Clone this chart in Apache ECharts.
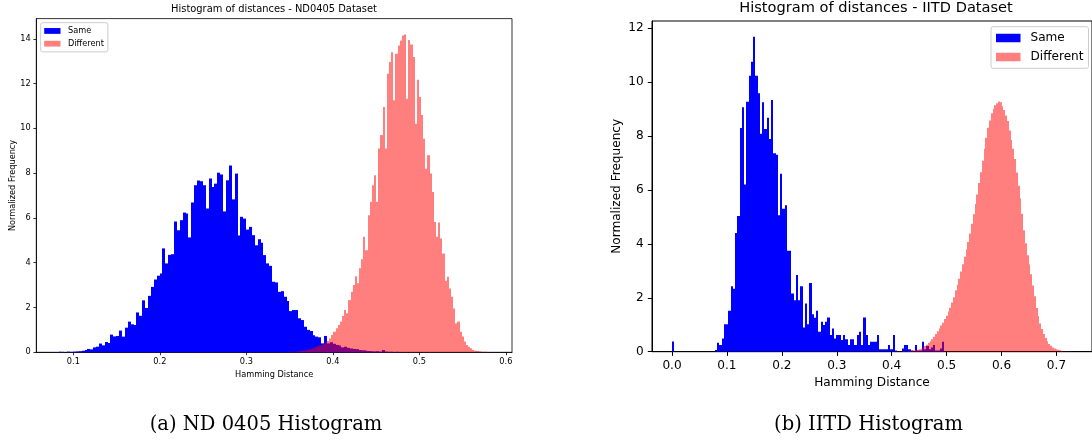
<!DOCTYPE html>
<html><head><meta charset="utf-8">
<script src="https://cdn.jsdelivr.net/npm/echarts@6/dist/echarts.min.js"></script>
<style>html,body{margin:0;padding:0;background:#fff}#c{width:1092px;height:440px}</style>
</head><body><div id="c"></div>
<script>
// ---- ND0405 dataset (left panel) ----
const ndSameStart = 0.0829, ndSameWidth = 0.003337;
const ndSame = [0.02,0.02,0.00,0.03,0.02,0.03,0.04,0.05,
0.07,0.10,0.15,0.13,0.22,0.25,0.39,0.31,0.46,0.42,0.79,0.71,0.73,0.97,0.70,1.10,1.37,1.25,1.22,1.78,1.63,2.32,1.98,2.52,
2.92,3.25,3.42,3.52,4.64,3.97,4.35,4.38,5.84,5.45,5.90,6.24,6.20,5.13,6.69,7.46,7.67,7.64,7.46,6.42,7.76,7.38,7.53,8.02,7.94,6.29,7.68,8.34,6.83,7.98,5.22,6.05,5.97,5.48,5.60,5.23,4.78,5.05,
4.89,4.34,3.97,3.86,3.15,3.12,2.70,2.73,2.48,2.29,1.84,1.89,1.89,1.52,1.44,1.14,1.00,0.95,0.76,0.70,0.67,0.40,0.73,
0.40,0.45,0.38,0.33,0.30,0.22,0.25,0.20,0.17,0.15,0.14,0.10,0.09,0.08,0.06,0.05,0.04,0.05,0.03,0.10,0.03,0.02,0.02,0.00,0.02];
const ndDiffStart = 0.334, ndDiffWidth = 0.00247;
const ndDiff = [0.00,0.00,0.01,0.00,0.01,0.01,0.02,0.02,0.03,0.03,
0.04,0.05,0.07,0.08,0.10,0.12,0.15,0.18,0.22,0.26,
0.30,0.33,0.38,0.44,0.50,0.62,0.77,0.92,1.07,1.22,
1.37,1.62,1.89,1.74,2.33,2.70,3.00,3.40,3.08,3.75,
4.15,5.16,4.56,6.12,6.72,7.46,7.90,6.72,9.10,9.70,
10.95,9.10,12.44,12.96,13.40,11.25,13.33,13.70,13.92,14.14,
14.19,11.32,13.95,13.74,13.18,10.20,12.17,11.40,10.60,9.54,
8.20,8.80,7.98,7.16,5.82,5.16,5.80,5.08,4.41,3.20,
3.37,2.85,2.48,1.96,1.29,1.37,0.92,0.70,0.48,0.33,
0.25,0.18,0.10,0.07,0.06,0.05,0.03,0.03,0.02,0.01];
const ndXTicks = [0.1,0.2,0.3,0.4,0.5,0.6];
const ndYTicks = [0,2,4,6,8,10,12,14];

// ---- IITD dataset (right panel) ----
const iitdSameStart = 0.0, iitdSameWidth = 0.0041;
const iitdSame = [0.38,0,0,0,0,0,0,0,0,0,0,0,0,0,0,0,0,0,0,
0.06,0.33,0.25,0.49,1.02,1.02,1.52,2.43,2.33,4.40,
5.03,8.29,9.06,6.20,9.27,10.23,10.75,11.68,10.23,9.58,
8.08,9.25,8.26,8.67,7.89,9.33,7.36,7.30,5.06,6.60,
5.30,5.43,3.74,3.74,2.16,1.91,2.84,1.91,2.43,0.90,
1.79,1.02,2.55,1.39,1.26,1.52,0.74,1.11,0.99,1.11,
1.27,0.62,0.86,0.49,0.62,0.62,0.43,0.62,0.46,0.25,
0.46,0.46,0.25,0.62,0.74,0.25,1.27,0.62,0.25,0.37,
0.37,0.37,0.62,0.09,0.09,0.09,0.09,0.25,0.09,0.62,
0.04,0,0,0.12,0.25,0.25,0.09,0.04,0,0.25,
0.04,0.04,0.37,0.09,0.21,0.09,0.16,0.25,0.04,0.04,
0.12,0.37];
const iitdDiffStart = 0.400, iitdDiffWidth = 0.00328;
const iitdDiff = [0.00,0.00,0.005,0.01,0.01,0.01,0.02,0.02,0.02,0.03,
0.03,0.04,0.05,0.06,0.07,0.09,0.12,0.16,0.21,0.26,
0.33,0.39,0.46,0.55,0.66,0.76,0.86,0.97,1.07,1.21,
1.33,1.49,1.63,1.82,2.02,2.28,2.48,2.70,2.97,3.24,
3.52,3.79,4.07,4.38,4.74,5.10,5.48,5.83,6.25,6.65,
7.08,7.52,7.93,8.30,8.57,8.84,9.00,9.14,9.21,9.28,
9.25,9.10,8.96,8.76,8.55,8.20,7.85,7.52,7.14,6.64,
6.15,5.69,5.11,4.50,4.02,3.58,3.23,2.87,2.45,2.06,
1.62,1.32,1.05,0.84,0.66,0.51,0.39,0.29,0.22,0.16,
0.12,0.09,0.07,0.05,0.03,0.02,0.015,0.01,0.01,0.005];
const iitdXTicks = [0,0.1,0.2,0.3,0.4,0.5,0.6,0.7];
const iitdYTicks = [0,2,4,6,8,10,12];

const seriesNames = ['Same', 'Different'];
const panelTitles = ['Histogram of distances - ND0405 Dataset', 'Histogram of distances - IITD Dataset'];
const captions = ['(a) ND 0405 Histogram', '(b) IITD Histogram'];
const xName = 'Hamming Distance', yName = 'Normalized Frequency';

function bins(start, width, vals) {
  return vals.map((v, i) => [start + i * width, start + (i + 1) * width, v]);
}
function renderBar(params, api) {
  const a = api.coord([api.value(0), api.value(2)]);
  const b = api.coord([api.value(1), 0]);
  const x0 = Math.round(a[0]), x1 = Math.round(b[0]);
  return { type: 'rect', shape: { x: x0, y: a[1], width: x1 - x0, height: b[1] - a[1] }, style: api.style() };
}
const FONT = 'DejaVu Sans';
const BLUE = '#0000ff', RED = 'rgba(255,0,0,0.5)';

function xAxisCfg(grid, min, max, ticks, fs, tickLen, margin, gap, lw) {
  return {
    gridIndex: grid, type: 'value', min: min, max: max,
    axisLine: { show: true, onZero: false, lineStyle: { color: '#000', width: lw } },
    axisTick: { show: true, customValues: ticks, length: tickLen, lineStyle: { color: '#000', width: lw } },
    axisLabel: { customValues: ticks, formatter: v => v.toFixed(1), fontSize: fs, color: '#000', fontFamily: FONT, margin: margin },
    splitLine: { show: false },
    name: xName, nameLocation: 'middle', nameGap: gap,
    nameTextStyle: { fontSize: fs, color: '#000', fontFamily: FONT }
  };
}
function yAxisCfg(grid, max, ticks, fs, tickLen, margin, gap, lw) {
  return {
    gridIndex: grid, type: 'value', min: 0, max: max,
    axisLine: { show: true, onZero: false, lineStyle: { color: '#000', width: lw } },
    axisTick: { show: true, customValues: ticks, length: tickLen, lineStyle: { color: '#000', width: lw } },
    axisLabel: { customValues: ticks, formatter: v => String(Math.round(v)), fontSize: fs, color: '#000', fontFamily: FONT, margin: margin },
    splitLine: { show: false },
    name: yName, nameLocation: 'middle', nameGap: gap,
    nameTextStyle: { fontSize: fs, color: '#000', fontFamily: FONT }
  };
}
function legendCfg(left, top, iw, ih, gap, fs, lh, pad, tpad) {
  return {
    data: seriesNames, orient: 'vertical', left: left, top: top, icon: 'rect',
    itemWidth: iw, itemHeight: ih, itemGap: gap, padding: pad, selectedMode: false,
    borderColor: '#cccccc', borderWidth: 1, borderRadius: 2, backgroundColor: 'rgba(255,255,255,0.8)',
    textStyle: { fontSize: fs, lineHeight: lh, color: '#000', fontFamily: FONT, padding: [0, 0, 0, tpad] }
  };
}
function textEl(x, y, text, fs, family) {
  return { type: 'text', x: x, y: y, style: { text: text, fontSize: fs, fontFamily: family, fill: '#000',
    align: 'center', verticalAlign: 'middle', textAlign: 'center', textVerticalAlign: 'middle' } };
}

const chart = echarts.init(document.getElementById('c'), null, { renderer: 'canvas' });
chart.setOption({
  animation: false,
  backgroundColor: '#ffffff',
  grid: [
    { left: 36.3, top: 18.6, width: 475.7, height: 333.7, show: true, borderColor: '#000', borderWidth: 0.8 },
    { left: 652, top: 21, width: 451, height: 330.7, show: true, borderColor: '#000', borderWidth: 1 }
  ],
  xAxis: [
    xAxisCfg(0, 0.0572, 0.6071, ndXTicks, 8.2, 2.9, 5.2, 16.2, 0.8),
    xAxisCfg(1, -0.0364, 0.7647, iitdXTicks, 12.1, 4.2, 8.2, 24.5, 1)
  ],
  yAxis: [
    yAxisCfg(0, 14.9, ndYTicks, 8.2, 2.9, 5.6, 18.5, 0.8),
    yAxisCfg(1, 12.26, iitdYTicks, 12.1, 4.2, 8.4, 29.5, 1)
  ],
  legend: [
    legendCfg(40.7, 22.7, 16.3, 5.8, 3.2, 8.2, 9.5, [3.5, 4, 3.5, 3.5], 2.5),
    legendCfg(991, 26.7, 24.5, 8.5, 5, 12.1, 14, [4.3, 5, 4.3, 5], 5)
  ],
  series: [
    { name: 'Same', type: 'custom', xAxisIndex: 0, yAxisIndex: 0, renderItem: renderBar,
      itemStyle: { color: BLUE }, encode: { x: [0, 1], y: 2 }, data: bins(ndSameStart, ndSameWidth, ndSame) },
    { name: 'Different', type: 'custom', xAxisIndex: 0, yAxisIndex: 0, renderItem: renderBar,
      itemStyle: { color: RED }, encode: { x: [0, 1], y: 2 }, data: bins(ndDiffStart, ndDiffWidth, ndDiff) },
    { name: 'Same', type: 'custom', xAxisIndex: 1, yAxisIndex: 1, renderItem: renderBar, clip: true,
      itemStyle: { color: BLUE }, encode: { x: [0, 1], y: 2 }, data: bins(iitdSameStart, iitdSameWidth, iitdSame) },
    { name: 'Different', type: 'custom', xAxisIndex: 1, yAxisIndex: 1, renderItem: renderBar, clip: true,
      itemStyle: { color: RED }, encode: { x: [0, 1], y: 2 }, data: bins(iitdDiffStart, iitdDiffWidth, iitdDiff) }
  ],
  graphic: [
    textEl(274, 9.3, panelTitles[0], 9.9, FONT),
    textEl(876, 8.3, panelTitles[1], 14.6, FONT),
    textEl(266, 425, captions[0], 19.5, 'DejaVu Serif'),
    textEl(868.5, 425, captions[1], 19.5, 'DejaVu Serif')
  ]
});
</script>
</body></html>
